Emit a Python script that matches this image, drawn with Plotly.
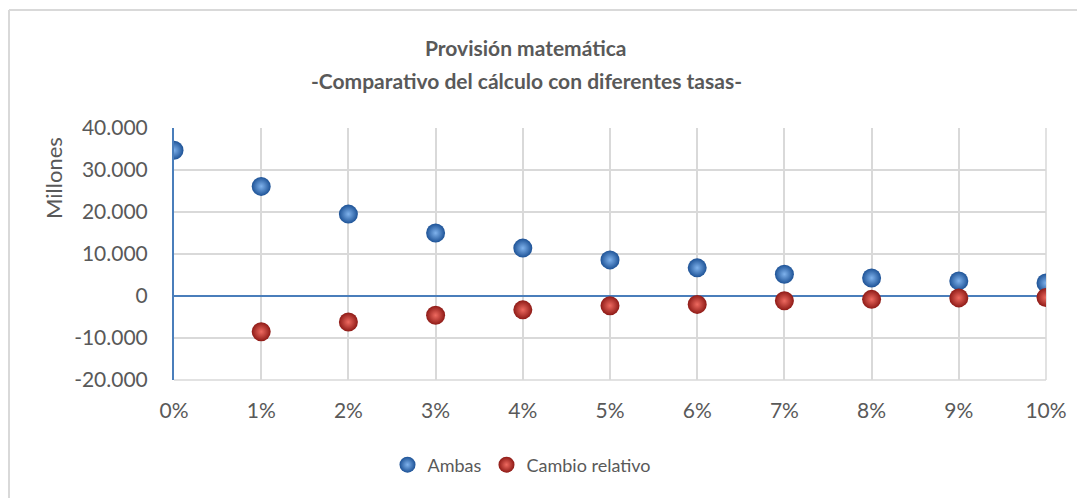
import plotly.graph_objects as go

categories = ["0%", "1%", "2%", "3%", "4%", "5%", "6%", "7%", "8%", "9%", "10%"]
ambas = [34700, 26100, 19500, 15000, 11400, 8600, 6700, 5200, 4300, 3600, 3100]
cambio_relativo = [None, -8500, -6200, -4600, -3300, -2300, -2000, -1150, -800, -450, -350]
y_tick_vals = [-20000, -10000, 0, 10000, 20000, 30000, 40000]
y_tick_text = ["-20.000", "-10.000", "0", "10.000", "20.000", "30.000", "40.000"]
title_lines = ["Provisión matemática", "-Comparativo del cálculo con diferentes tasas-"]

FONT = "Lato, Carlito, Calibri, sans-serif"
GREY = "#595959"
AXIS_BLUE = "#4a7ebb"

W, H = 1085, 498
OFF = 8  # page body margin
# plot area in page pixels
PL, PR, PT, PB = 174, 1046, 128, 380
ML = PL - OFF
MT = PT - OFF
MR = W - (PR - OFF)
MB = H - (PB - OFF)
pw, ph = PR - PL, PB - PT

def px_x(x):
    return (x - PL) / pw

def px_y(y):
    return (PB - y) / ph

fig = go.Figure()
fig.add_trace(go.Scatter(
    x=categories, y=ambas, mode="markers", name="Ambas",
    marker=dict(size=19, color="#1d5296",
                gradient=dict(type="radial", color="#7fb2ec"),
                line=dict(width=0)),
))
fig.add_trace(go.Scatter(
    x=categories, y=cambio_relativo, mode="markers", name="Cambio relativo",
    marker=dict(size=19, color="#8e1a16",
                gradient=dict(type="radial", color="#ee6a60"),
                line=dict(width=0)),
))

annotations = [dict(
    text="Millones", textangle=-90, xref="paper", yref="paper",
    x=px_x(53), y=px_y(178), xanchor="center", yanchor="middle",
    showarrow=False, font=dict(size=22, color=GREY),
)]
for line, ypix in zip(title_lines, [47, 80]):
    annotations.append(dict(
        text="<b>" + line + "</b>", xref="paper", yref="paper",
        x=px_x(526), y=px_y(ypix), xanchor="center", yanchor="middle",
        showarrow=False, font=dict(size=21, color=GREY, family=FONT),
    ))

fig.update_layout(
    width=W, height=H,
    margin=dict(l=ML, r=MR, t=MT, b=MB),
    paper_bgcolor="white", plot_bgcolor="white",
    font=dict(family=FONT, color=GREY, size=20),
    xaxis=dict(
        type="category", range=[0, 10],
        showgrid=True, gridcolor="#d9d9d9", gridwidth=1.5,
        showline=False, zeroline=False, ticks="",
        tickfont=dict(size=21, color=GREY),
        ticklabelstandoff=16,
    ),
    yaxis=dict(
        range=[-20000, 40000], tickvals=y_tick_vals, ticktext=y_tick_text,
        showgrid=True, gridcolor="#d9d9d9", gridwidth=1.5,
        zeroline=True, zerolinecolor=AXIS_BLUE, zerolinewidth=2,
        showline=True, linecolor=AXIS_BLUE, linewidth=2,
        ticks="", ticklabelstandoff=20,
        tickfont=dict(size=21, color=GREY),
    ),
    legend=dict(
        orientation="h", x=px_x(522), xanchor="center", y=px_y(465), yanchor="middle",
        font=dict(size=18, color=GREY), itemsizing="trace",
        traceorder="normal", bgcolor="rgba(0,0,0,0)", itemwidth=30,
        tracegroupgap=0,
    ),
    showlegend=True,
    annotations=annotations,
    shapes=[
        dict(type="line", xref="paper", yref="paper", x0=px_x(9), x1=px_x(1100),
             y0=px_y(10), y1=px_y(10), line=dict(color="#d9d9d9", width=2)),
        dict(type="line", xref="paper", yref="paper", x0=px_x(9), x1=px_x(9),
             y0=px_y(10), y1=px_y(510), line=dict(color="#d9d9d9", width=2)),
        dict(type="line", xref="paper", yref="paper", x0=1, x1=1,
             y0=0, y1=1, line=dict(color="#d9d9d9", width=1.5), layer="below"),
        dict(type="line", xref="paper", yref="paper", x0=0, x1=1,
             y0=0, y1=0, line=dict(color="#d9d9d9", width=1.5), layer="below"),
    ],
)

fig.write_html("out.html")
